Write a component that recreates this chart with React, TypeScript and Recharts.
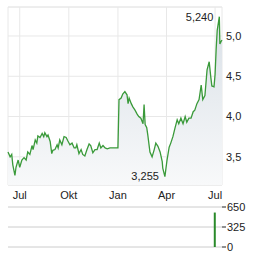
import React from 'react';
import {
  ComposedChart,
  Area,
  Bar,
  XAxis,
  YAxis,
  CartesianGrid,
  ReferenceArea,
  ReferenceDot,
} from 'recharts';

// tage seit dem ersten Datenpunkt (9. Juni)
const tage = [
  0, 4, 7, 9, 13, 15, 19, 22, 26, 30, 34, 37, 41, 45, 47, 51, 54, 56, 60, 64,
  67, 69, 73, 75, 79, 82, 84, 88, 92, 94, 97, 101, 105, 109, 112, 116, 120, 124, 127, 129,
  133, 137, 140, 144, 148, 152, 155, 159, 163, 167, 171, 174, 178, 182, 186, 191, 197, 204, 206, 208,
  212, 215, 219, 223, 225, 227, 231, 234, 238, 242, 245, 249, 253, 255, 257, 260, 262, 266, 270, 274,
  277, 281, 285, 289, 290, 294, 298, 302, 305, 309, 313, 317, 320, 324, 328, 332, 335, 339, 343, 347,
  350, 354, 358, 362, 365, 369, 373, 377, 380, 382, 386, 388, 390, 392, 396, 397, 399, 401,
];

const kurse = [
  3.56, 3.5, 3.53, 3.4, 3.27, 3.37, 3.46, 3.37, 3.46, 3.49, 3.46, 3.56, 3.53, 3.64, 3.59, 3.71, 3.67, 3.76, 3.74, 3.79,
  3.75, 3.8, 3.75, 3.77, 3.69, 3.54, 3.58, 3.59, 3.65, 3.61, 3.71, 3.65, 3.75, 3.74, 3.7, 3.65, 3.67, 3.61, 3.61, 3.65,
  3.54, 3.59, 3.53, 3.51, 3.59, 3.66, 3.64, 3.55, 3.59, 3.59, 3.67, 3.61, 3.64, 3.61, 3.6, 3.61, 3.61, 3.61, 3.61, 4.21,
  4.23, 4.28, 4.31, 4.27, 4.16, 4.23, 4.16, 4.12, 4.08, 4.03, 4.0, 3.98, 3.91, 4.15, 3.9, 3.86, 3.77, 3.56, 3.5, 3.59,
  3.67, 3.63, 3.56, 3.44, 3.36, 3.255, 3.46, 3.62, 3.67, 3.75, 3.86, 3.96, 3.91, 3.98, 3.91, 4.0, 3.93, 3.98, 3.98, 4.06,
  4.08, 4.16, 4.21, 4.39, 4.21, 4.26, 4.58, 4.68, 4.49, 4.38, 4.37, 4.52, 4.83, 5.07, 5.24, 4.9, 4.93, 4.95,
];

// umsatz: nur am letzten tag sichtbar
const volTage = [22, 114, 206, 297, 388];
const volumen = [0, 0, 0, 0, 560];

const monatsTicks = [22, 114, 206, 297, 388];
const monatsNamen = ['Jul', 'Okt', 'Jan', 'Apr', 'Jul'];
const kursTicks = [3.5, 4.0, 4.5, 5.0];
const volTicks = [0, 325, 650];

const daten = tage.map((t, i) => ({ tag: t, kurs: kurse[i] }));
const volDaten = volTage.map((t, i) => ({ tag: t, vol: volumen[i] }));

const fmtKurs = (v: number) => v.toFixed(1).replace('.', ',');
const fmtMonat = (v: number) => monatsNamen[monatsTicks.indexOf(v)] ?? '';
const leer = () => <g />;

const schrift = { fontSize: 11, fill: '#222', fontFamily: 'Liberation Sans, Arial, sans-serif' };

const App = () => {
  return (
    <div style={{ position: 'absolute', left: 0, top: 0, width: 264, height: 255, background: '#fff' }}>
      <div style={{ position: 'absolute', left: 0, top: 0, zIndex: 0 }}>
        <ComposedChart id="kurs" width={264} height={205} data={daten} margin={{ top: 7, right: 0, bottom: 0, left: 8 }}>
          <defs>
            <linearGradient id="flaeche" x1="0" y1="0" x2="0" y2="1">
              <stop offset="0%" stopColor="#d9e0e7" />
              <stop offset="100%" stopColor="#f8f9fa" />
            </linearGradient>
          </defs>
          <CartesianGrid stroke="#e8e8e8" verticalValues={monatsTicks} />
          <ReferenceArea x1={0} x2={401} y1={3.15} y2={5.36} fill="none" stroke="#e8e8e8" ifOverflow="visible" />
          <XAxis
            dataKey="tag"
            type="number"
            domain={[0, 401]}
            ticks={monatsTicks}
            tickFormatter={fmtMonat}
            axisLine={false}
            tickLine={false}
            tickSize={0}
            tickMargin={6}
            height={20}
            tick={schrift}
            interval={0}
          />
          <YAxis
            orientation="right"
            domain={[3.15, 5.36]}
            ticks={kursTicks}
            tickFormatter={fmtKurs}
            axisLine={false}
            tickLine={false}
            tickSize={0}
            tickMargin={4}
            width={42}
            tick={{ ...schrift, textAnchor: 'start' }}
            interval={0}
            allowDataOverflow
          />
          <Area
            type="linear"
            dataKey="kurs"
            stroke="#3a9a3a"
            strokeWidth={1.3}
            fill="url(#flaeche)"
            fillOpacity={1}
            baseValue="dataMin"
            dot={false}
            activeDot={false}
            isAnimationActive={false}
          />
          <ReferenceDot
            x={396}
            y={5.24}
            r={0}
            ifOverflow="visible"
            label={{ value: '5,240', position: 'left', offset: 6, ...schrift }}
          />
          <ReferenceDot
            x={294}
            y={3.255}
            r={0}
            ifOverflow="visible"
            label={{ value: '3,255', position: 'left', offset: 6, ...schrift }}
          />
        </ComposedChart>
      </div>
      <div style={{ position: 'absolute', left: 0, top: 200, zIndex: 1 }}>
        <ComposedChart id="umsatz" width={264} height={55} data={volDaten} margin={{ top: 7, right: 0, bottom: 8, left: 8 }}>
          <CartesianGrid stroke="#cccccc" vertical={false} />
          {/* monatsstriche am oberen rand */}
          <XAxis
            dataKey="tag"
            type="number"
            domain={[0, 401]}
            ticks={monatsTicks}
            orientation="top"
            mirror
            height={0}
            axisLine={false}
            tickLine={{ stroke: '#222' }}
            tickSize={3}
            tick={leer}
            interval={0}
          />
          <YAxis
            orientation="right"
            domain={[0, 650]}
            ticks={volTicks}
            axisLine={false}
            tickLine={{ stroke: '#222' }}
            tickSize={4}
            tickMargin={1}
            width={42}
            interval={0}
            tick={{ ...schrift, textAnchor: 'start' }}
          />
          <Bar dataKey="vol" fill="#2a8a2a" barSize={2} isAnimationActive={false} />
        </ComposedChart>
      </div>
    </div>
  );
};

export default App;
